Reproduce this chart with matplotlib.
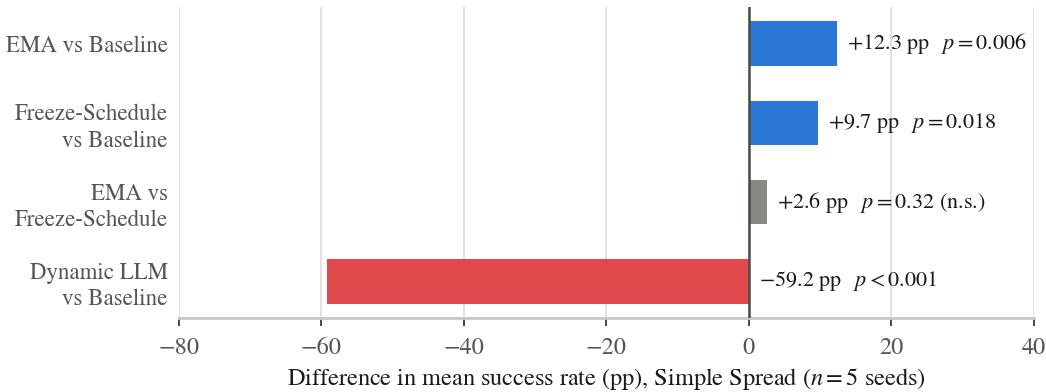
import numpy as np
import matplotlib
matplotlib.use('Agg')
import matplotlib.pyplot as plt

# Paired comparisons and their effect sizes
comparisons = ['EMA vs Baseline', 'Freeze-Schedule\nvs Baseline',
               'EMA vs\nFreeze-Schedule', 'Dynamic LLM\nvs Baseline']
diffs = [12.3, 9.7, 2.6, -59.2]
p_texts = ['$\\,p = 0.006$', '$\\,p = 0.018$', '$\\,p = 0.32$ (n.s.)', '$\\,p < 0.001$']
bar_colors = ['#2a77d6', '#2a77d6', '#8a8882', '#e04a4c']
xticks = [-80, -60, -40, -20, 0, 20, 40]

plt.rcParams['font.family'] = ['STIXGeneral', 'DejaVu Serif']
plt.rcParams['mathtext.fontset'] = 'stix'

fig = plt.figure(figsize=(10.46, 3.92), dpi=100)
ax = fig.add_axes([0.1711, 0.1888, 0.8174, 0.7934])

y = np.arange(len(comparisons))
ax.barh(y, diffs, height=0.56, color=bar_colors, zorder=3)
ax.axvline(0, color='#4a4a48', lw=1.8, zorder=4)

# value + p-value labels to the right of each bar
for yi, d, pt in zip(y, diffs, p_texts):
    sign = '+' if d > 0 else '\u2212'
    label = f'{sign}{abs(d):.1f} pp  {pt}'
    ax.annotate(label, xy=(max(d, 0), yi), xytext=(10, 0),
                textcoords='offset pixels',
                va='center', ha='left', fontsize=16, color='#1a1a1a', zorder=5)

ax.set_xlim(-80, 40)
ax.set_ylim(3.46, -0.46)
ax.set_xticks(xticks)
ax.set_xticklabels([f'\u2212{abs(t)}' if t < 0 else str(t) for t in xticks])
ax.set_yticks(y)
ax.set_yticklabels(comparisons, linespacing=1.3)

ax.grid(axis='x', color='#e2e2dc', lw=1.4, zorder=0)
ax.grid(axis='y', visible=False)
for side in ['top', 'right', 'left']:
    ax.spines[side].set_visible(False)
ax.spines['bottom'].set_color('#c8c8c0')
ax.spines['bottom'].set_linewidth(2)

ax.tick_params(axis='x', length=6, width=1.4, color='#444444',
               labelsize=17.5, labelcolor='#555552', pad=8)
ax.tick_params(axis='y', length=0, labelsize=16.5, labelcolor='#555552', pad=8)

ax.set_xlabel('Difference in mean success rate (pp), Simple Spread ($n = 5$ seeds)',
              fontsize=17.5, color='#1a1a1a', labelpad=5)

fig.savefig('out.png', dpi=100)
